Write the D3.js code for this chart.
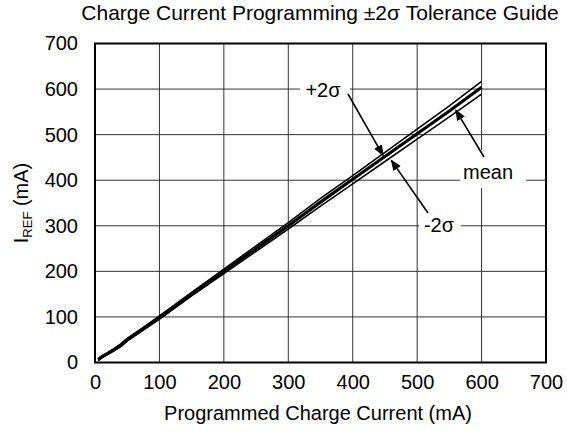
<!DOCTYPE html>
<html>
<head>
<meta charset="utf-8">
<script src="https://cdn.jsdelivr.net/npm/d3@7/dist/d3.min.js"></script>
<style>
  body { margin: 0; background: #fff; }
  text { font-family: Arial, "Liberation Sans", sans-serif; fill: #000; }
</style>
</head>
<body>
<div id="chart"></div>
<script>
// programmed current (mA)
let progCurrent = [5, 10, 20, 30, 40, 50, 75, 100, 150, 200, 250, 300, 350, 400, 450, 500, 550, 600];
// measured I_REF (mA)
let meanRef  = [6, 12, 20, 28, 38, 50, 74, 98, 150, 200, 250, 300, 352, 402, 452, 502, 552, 604];
let plus2Ref = [8, 14, 22, 31, 41, 53, 77, 102, 154, 205, 256, 307, 360, 410, 461, 512, 563, 617];
let minus2Ref = [4, 10, 18, 26, 35, 47, 71, 95, 146, 195, 244, 293, 343, 392, 441, 490, 539, 589];
let xTicks = [0, 100, 200, 300, 400, 500, 600, 700];
let yTicks = [0, 100, 200, 300, 400, 500, 600, 700];

let width = 567, height = 447;
let margin = {top: 43.5, right: 21, bottom: 84.5, left: 95};
let fontSize = "20px";

let svg = d3.select("#chart").append("svg")
    .attr("width", width)
    .attr("height", height);

let defs = svg.append("defs");
defs.append("marker")
    .attr("id", "arrow")
    .attr("viewBox", "0 0 10 10")
    .attr("refX", 9).attr("refY", 5)
    .attr("markerWidth", 7).attr("markerHeight", 7)
    .attr("orient", "auto")
    .append("path")
    .attr("d", "M0,1 L10,5 L0,9 Z")
    .attr("fill", "#000");

let x = d3.scaleLinear().domain([0, 700]).range([margin.left, width - margin.right]);
let y = d3.scaleLinear().domain([0, 700]).range([height - margin.bottom, margin.top]);

// grid
svg.append("g").selectAll("line.vg")
    .data(xTicks.slice(1, -1))
    .enter().append("line")
    .attr("x1", d => x(d)).attr("x2", d => x(d))
    .attr("y1", y(0)).attr("y2", y(700))
    .attr("stroke", "#333").attr("stroke-width", 1);

svg.append("g").selectAll("line.hg")
    .data(yTicks.slice(1, -1))
    .enter().append("line")
    .attr("x1", x(0)).attr("x2", x(700))
    .attr("y1", d => y(d)).attr("y2", d => y(d))
    .attr("stroke", "#333").attr("stroke-width", 1);

// axes labels
let xAxis = d3.axisBottom(x).tickValues(xTicks).tickSize(0).tickPadding(12);
let gx = svg.append("g")
    .attr("transform", "translate(0," + y(0) + ")")
    .call(xAxis);
gx.select(".domain").remove();
gx.selectAll("text").style("font-size", fontSize).style("font-family", "Arial, 'Liberation Sans', sans-serif");

let yAxis = d3.axisLeft(y).tickValues(yTicks).tickSize(0).tickPadding(17);
let gy = svg.append("g")
    .attr("transform", "translate(" + x(0) + ",0)")
    .call(yAxis);
gy.select(".domain").remove();
gy.selectAll("text").style("font-size", fontSize).style("font-family", "Arial, 'Liberation Sans', sans-serif");

// label backgrounds (break the grid)
function whiteBox(x0, y0, w, h) {
    svg.append("rect").attr("x", x0).attr("y", y0).attr("width", w).attr("height", h).attr("fill", "#fff");
}
whiteBox(300, 79, 50, 22);
whiteBox(419, 212, 42, 24);
whiteBox(460, 150, 66, 38);

// series
let line = d3.line()
    .x((d, i) => x(progCurrent[i]))
    .y(d => y(d));

svg.append("path").datum(minus2Ref)
    .attr("d", line).attr("fill", "none")
    .attr("stroke", "#000").attr("stroke-width", 1.6);
svg.append("path").datum(plus2Ref)
    .attr("d", line).attr("fill", "none")
    .attr("stroke", "#000").attr("stroke-width", 1.6);
svg.append("path").datum(meanRef)
    .attr("d", line).attr("fill", "none")
    .attr("stroke", "#000").attr("stroke-width", 3.2);

// frame
svg.append("rect")
    .attr("x", x(0)).attr("y", y(700))
    .attr("width", x(700) - x(0)).attr("height", y(0) - y(700))
    .attr("fill", "none").attr("stroke", "#000").attr("stroke-width", 2);

// annotations
function arrow(x1, y1, x2, y2) {
    svg.append("line")
        .attr("x1", x1).attr("y1", y1).attr("x2", x2).attr("y2", y2)
        .attr("stroke", "#000").attr("stroke-width", 1.6)
        .attr("marker-end", "url(#arrow)");
}
arrow(348, 94, x(447), y(459) + 2);
arrow(428, 213, x(460), y(448) + 2);
arrow(484, 157, x(560), y(556) + 1);

svg.append("text").attr("x", 323).attr("y", 97)
    .attr("text-anchor", "middle").style("font-size", fontSize).text("+2σ");
svg.append("text").attr("x", 439).attr("y", 232)
    .attr("text-anchor", "middle").style("font-size", fontSize).text("-2σ");
svg.append("text").attr("x", 488).attr("y", 179)
    .attr("text-anchor", "middle").style("font-size", fontSize).text("mean");

// title
svg.append("text").attr("x", 320).attr("y", 20)
    .attr("text-anchor", "middle").style("font-size", "21px")
    .text("Charge Current Programming ±2σ Tolerance Guide");

// x title
svg.append("text").attr("x", 318).attr("y", 420)
    .attr("text-anchor", "middle").style("font-size", fontSize)
    .text("Programmed Charge Current (mA)");

// y title
let yt = svg.append("text")
    .attr("transform", "translate(28," + ((y(0) + y(700)) / 2) + ") rotate(-90)")
    .attr("text-anchor", "middle").style("font-size", fontSize);
yt.append("tspan").text("I");
yt.append("tspan").attr("dy", 4).style("font-size", "13px").text("REF");
yt.append("tspan").attr("dy", -4).text(" (mA)");
</script>
</body>
</html>
